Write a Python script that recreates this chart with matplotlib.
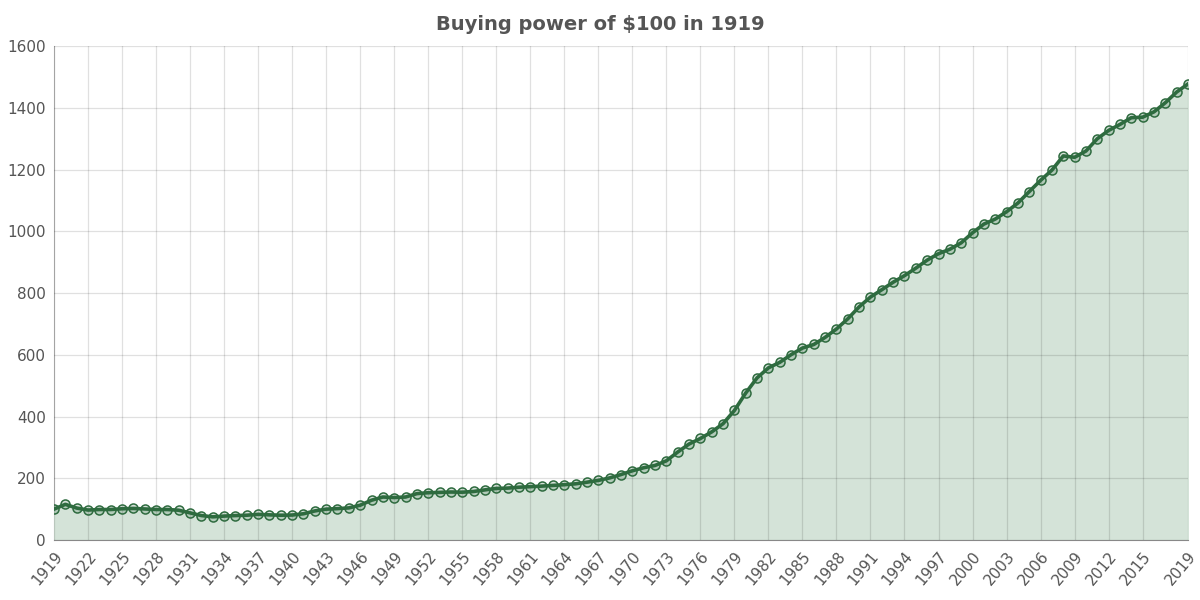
import matplotlib
matplotlib.use("Agg")
import matplotlib.pyplot as plt

years = list(range(1919, 2020))
values = [100.0, 115.6, 103.5, 97.1, 98.8, 98.8, 101.2, 102.3, 100.6, 98.8,
          98.8, 96.5, 87.9, 79.2, 75.1, 77.5, 79.2, 80.3, 83.2, 81.5,
          80.3, 80.9, 85.0, 94.2, 100.0, 101.7, 104.0, 112.7, 128.9, 139.3,
          137.6, 139.3, 150.3, 153.2, 154.3, 155.5, 154.9, 157.2, 162.4, 167.1,
          168.2, 171.1, 172.8, 174.6, 176.9, 179.2, 182.1, 187.3, 193.1, 201.2,
          212.1, 224.3, 234.1, 241.6, 256.6, 285.0, 311.0, 328.9, 350.3, 376.9,
          419.7, 476.3, 525.4, 557.8, 575.7, 600.6, 622.0, 633.5, 656.6, 683.8,
          716.8, 755.5, 787.3, 811.0, 835.3, 856.6, 880.9, 906.9, 927.7, 942.2,
          963.0, 995.4, 1023.7, 1039.9, 1063.6, 1091.9, 1128.9, 1165.3, 1198.5, 1244.5,
          1240.1, 1260.4, 1300.2, 1327.1, 1346.6, 1368.4, 1370.0, 1387.3, 1416.9, 1451.5,
          1477.8]
tick_years = list(range(1919, 2016, 3)) + [2019]
y_ticks = [0, 200, 400, 600, 800, 1000, 1200, 1400, 1600]
title = "Buying power of $100 in 1919"

fig = plt.figure(figsize=(12, 6), dpi=100)
ax = fig.add_axes([0.045, 0.1, 0.945, 0.823])

line_c = "#2e6b3f"
ax.fill_between(years, values, 0, color="#d4e3d8", zorder=1)
ax.plot(years, values, color=line_c, lw=2.6, zorder=3)
ax.plot(years, values, ls="none", marker="o", ms=6.5, mfc=(0.18, 0.42, 0.25, 0.2),
        mec=line_c, mew=1.1, zorder=4)

ax.set_xlim(1919, 2019)
ax.set_ylim(0, 1600)
ax.set_xticks(tick_years)
ax.set_xticklabels([str(y) for y in tick_years], rotation=50, ha="right",
                   rotation_mode="anchor", fontsize=11, color="#555555")
ax.set_yticks(y_ticks)
ax.set_yticklabels([str(v) for v in y_ticks], fontsize=11, color="#555555")
ax.tick_params(axis="both", length=0, pad=6)
ax.grid(True, color="#000000", alpha=0.12, lw=0.9, zorder=2)
ax.set_axisbelow(False)
for s in ["top", "right"]:
    ax.spines[s].set_visible(False)
ax.spines["left"].set_color("#bbbbbb")
ax.spines["bottom"].set_color("#888888")
ax.spines["left"].set_zorder(0)

fig.suptitle(title, x=0.5, y=0.975, fontsize=14, fontweight="bold", color="#555555")
fig.savefig("out.png", dpi=100)
